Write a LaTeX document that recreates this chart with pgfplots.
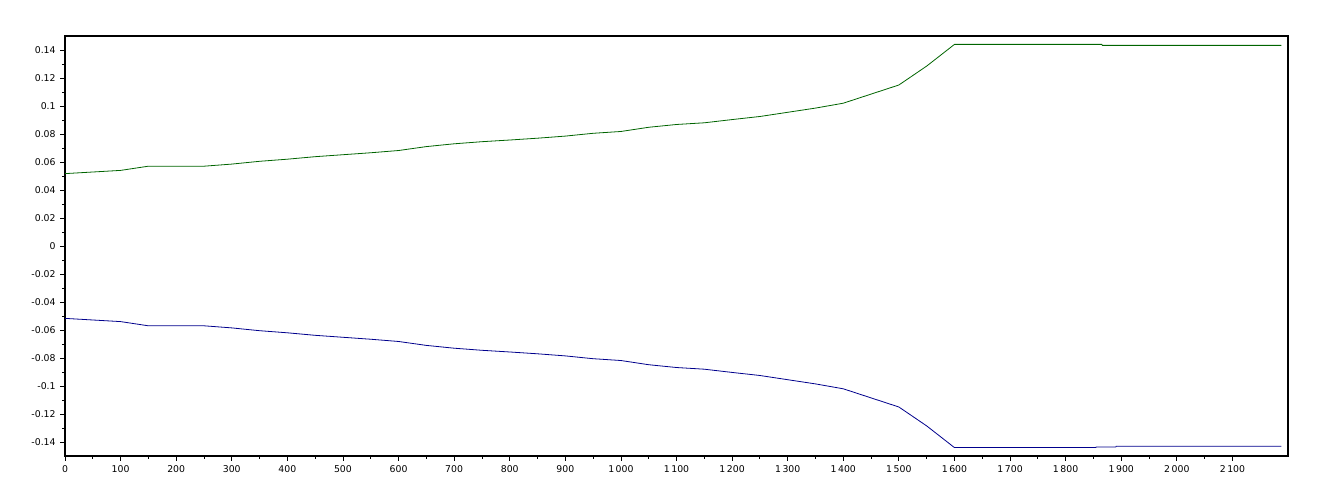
\documentclass[border=0pt]{standalone}
\usepackage{fontspec}
\setmainfont{DejaVu Sans}
\usepackage{pgfplots}
\pgfplotsset{compat=1.18}
\definecolor{upgreen}{RGB}{0,100,0}
\definecolor{lowblue}{RGB}{0,0,140}

\begin{document}
\begin{tikzpicture}
\useasboundingbox (0,0) rectangle (1000.5pt,374.25pt);
\begin{axis}[
  at={(48.75pt,32.25pt)}, anchor=south west,
  scale only axis, width=917.25pt, height=315pt,
  xmin=0, xmax=2200, ymin=-0.15, ymax=0.15,
  xtick={0,100,...,2100},
  ytick={-0.14,-0.12,-0.1,-0.08,-0.06,-0.04,-0.02,0,0.02,0.04,0.06,0.08,0.1,0.12,0.14},
  minor x tick num=1, minor y tick num=1,
  xtick pos=bottom, ytick pos=left,
  tick align=outside,
  major tick length=3.5pt, minor tick length=2pt,
  scaled x ticks=false, scaled y ticks=false,
  axis line style={line width=0.8pt},
  tick style={black, line width=0.6pt},
  tick label style={font=\fontsize{7}{8}\selectfont},
  /pgf/number format/assume math mode=true,
  xticklabel style={/pgf/number format/1000 sep={\,}},
  yticklabel style={/pgf/number format/fixed, /pgf/number format/precision=2},
]
% upper envelope
\addplot[color=upgreen, line width=0.6pt, mark=none] coordinates {
  (0,0.0517)(100,0.0540)(150,0.0570)(250,0.0570)(300,0.0585)
  (350,0.0605)(400,0.0620)(450,0.0638)(500,0.0652)(550,0.0666)
  (600,0.0682)(650,0.0710)(700,0.0730)(750,0.0745)(800,0.0757)
  (850,0.0770)(900,0.0785)(950,0.0805)(1000,0.0818)(1050,0.0848)
  (1100,0.0868)(1150,0.0880)(1200,0.0903)(1250,0.0925)(1300,0.0955)
  (1350,0.0985)(1400,0.1020)(1450,0.1085)(1500,0.1150)(1550,0.1285)
  (1600,0.1440)(1865,0.1440)(1866,0.1433)(2188,0.1433)
};
% lower envelope
\addplot[color=lowblue, line width=0.6pt, mark=none] coordinates {
  (0,-0.0517)(100,-0.0540)(150,-0.0570)(250,-0.0570)(300,-0.0585)
  (350,-0.0605)(400,-0.0620)(450,-0.0638)(500,-0.0652)(550,-0.0666)
  (600,-0.0682)(650,-0.0710)(700,-0.0730)(750,-0.0745)(800,-0.0757)
  (850,-0.0770)(900,-0.0785)(950,-0.0805)(1000,-0.0818)(1050,-0.0848)
  (1100,-0.0868)(1150,-0.0880)(1200,-0.0903)(1250,-0.0925)(1300,-0.0955)
  (1350,-0.0985)(1400,-0.1020)(1450,-0.1085)(1500,-0.1150)(1550,-0.1285)
  (1600,-0.1440)(1854,-0.1440)(1855,-0.1436)(1890,-0.1436)(1891,-0.1431)(2188,-0.1431)
};
\end{axis}
\end{tikzpicture}
\end{document}
